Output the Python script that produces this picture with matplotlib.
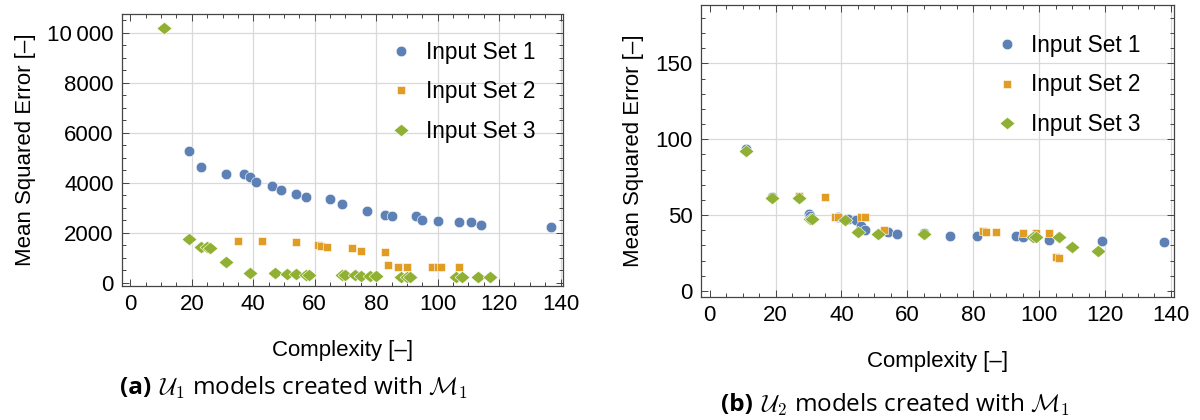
import numpy as np
import matplotlib.pyplot as plt
from matplotlib.ticker import MultipleLocator, FixedLocator

plt.rcParams['font.family'] = ['Liberation Sans', 'DejaVu Sans']
plt.rcParams['mathtext.fontset'] = 'cm'

labels = ["Input Set 1", "Input Set 2", "Input Set 3"]
colors = ["#5E81B5", "#E19C24", "#8FB032"]

# (a) U1 models
u1_set1_x = [19, 23, 31, 37, 39, 41, 46, 49, 54, 57, 65, 69, 77, 83, 85, 93, 95, 100, 107, 111, 114, 137]
u1_set1_y = [5290, 4650, 4360, 4360, 4220, 4020, 3890, 3720, 3570, 3450, 3350, 3170, 2890, 2710, 2670,
             2670, 2510, 2490, 2450, 2450, 2310, 2250]
u1_set2_x = [35, 43, 54, 61, 62, 64, 72, 75, 83, 84, 87, 90, 98, 100, 101, 107]
u1_set2_y = [1670, 1670, 1620, 1510, 1470, 1420, 1380, 1270, 1220, 710, 640, 640, 640, 620, 620, 620]
u1_set3_x = [11, 19, 23, 25, 26, 31, 39, 47, 51, 54, 57, 58, 69, 70, 73, 75, 78, 80, 88, 90, 91,
             106, 108, 113, 117]
u1_set3_y = [10200, 1750, 1440, 1420, 1380, 820, 380, 380, 340, 340, 310, 310, 300, 300, 300, 290,
             290, 290, 250, 250, 240, 220, 220, 230, 220]

# (b) U2 models
u2_set1_x = [11, 19, 30, 30.5, 39, 42, 44.5, 46, 47, 54, 57, 65, 73, 81, 93, 95, 103, 119, 138]
u2_set1_y = [93.5, 61.8, 50.6, 49.5, 48.4, 47.6, 46.9, 43, 40.3, 38.6, 37.7, 38.1, 36.4, 36.4, 36.4,
             35.5, 33.7, 32.6, 32]
u2_set2_x = [27, 35, 38, 39, 46, 47, 53, 83, 84, 87, 95, 99, 103, 105, 106]
u2_set2_y = [62.3, 61.8, 49, 49, 48.9, 48.9, 40.3, 39.2, 38.8, 38.8, 38.1, 38.1, 38.1, 22.4, 21.7]
u2_set3_x = [11, 19, 27, 30.5, 31, 41, 45, 51, 65, 98, 99, 106, 110, 118]
u2_set3_y = [92.5, 61, 61, 47.6, 47.6, 46.5, 38.6, 37.7, 37.2, 35.5, 35.5, 35.5, 28.9, 26.5]

# slightly flattened diamond
diamond = [(-1, 0), (0, 0.83), (1, 0), (0, -0.83), (-1, 0)]
markers = [dict(marker='o', ms=7.6), dict(marker='s', ms=5.3), dict(marker=diamond, ms=10.8)]


def draw_panel(ax, series, ylim, ymajor, yminor, ylabels, legend_xy):
    for (x, y), lab, c, m in zip(series, labels, colors, markers):
        ax.plot(x, y, ls='none', color=c, mec='white', mew=0.4, label=lab, **m)
    ax.set_xlim(-2.7, 140.8)
    ax.set_ylim(*ylim)
    ax.xaxis.set_major_locator(MultipleLocator(20))
    ax.xaxis.set_minor_locator(MultipleLocator(5))
    ax.yaxis.set_major_locator(FixedLocator(ymajor))
    ax.yaxis.set_minor_locator(MultipleLocator(yminor))
    ax.set_yticklabels(ylabels)
    ax.tick_params(which='both', direction='in', top=True, right=True, colors='#444444',
                   labelcolor='black', labelsize=16, width=0.7)
    ax.tick_params(which='major', length=5, pad=6)
    ax.tick_params(which='minor', length=3)
    for v in ax.get_xticks():
        if 0 < v <= 140:
            ax.axvline(v, color='#d9d9d9', lw=0.9, zorder=0)
    for v in ymajor[1:]:
        ax.axhline(v, color='#d9d9d9', lw=0.9, zorder=0)
    for s in ax.spines.values():
        s.set_color('#444444')
        s.set_linewidth(0.9)
    ax.set_xlabel("Complexity [–]", fontsize=16, labelpad=18)
    ax.set_ylabel("Mean Squared Error [–]", fontsize=16, labelpad=8)
    ax.legend(loc='upper right', bbox_to_anchor=legend_xy, frameon=False, fontsize=16.3,
              handlelength=1.0, handletextpad=0.6, labelspacing=0.72, markerscale=1.0)


fig = plt.figure(figsize=(12, 4.2), dpi=100)
ax1 = fig.add_axes([0.1017, 0.319, 0.3675, 0.648])
ax2 = fig.add_axes([0.584, 0.293, 0.394, 0.695])

draw_panel(ax1, [(u1_set1_x, u1_set1_y), (u1_set2_x, u1_set2_y), (u1_set3_x, u1_set3_y)],
           (-130, 10760), [0, 2000, 4000, 6000, 8000, 10000], 500,
           ["0", "2000", "4000", "6000", "8000", "10\u2009000"], (0.983, 0.975))
draw_panel(ax2, [(u2_set1_x, u2_set1_y), (u2_set2_x, u2_set2_y), (u2_set3_x, u2_set3_y)],
           (-4, 188.5), [0, 50, 100, 150], 10,
           ["0", "50", "100", "150"], (0.974, 0.97))

# captions: bold tag followed by the description, centred as one line
cap_font = ['Open Sans', 'DejaVu Sans']
renderer = fig.canvas.get_renderer()


def caption(tag, body, xc, yc, gap=0.007):
    t1 = fig.text(0, yc, tag, fontsize=17.5, fontweight='bold', family=cap_font, va='center')
    t2 = fig.text(0, yc, body, fontsize=17.5, family=cap_font, va='center')
    w1 = t1.get_window_extent(renderer).width / fig.bbox.width
    w2 = t2.get_window_extent(renderer).width / fig.bbox.width
    x0 = xc - (w1 + gap + w2) / 2
    t1.set_x(x0)
    t2.set_x(x0 + w1 + gap)


caption("(a)", r"$\mathcal{U}_1$ models created with $\mathcal{M}_1$", 0.245, 0.076)
caption("(b)", r"$\mathcal{U}_2$ models created with $\mathcal{M}_1$", 0.746, 0.035)

fig.savefig("out.png", dpi=100)
